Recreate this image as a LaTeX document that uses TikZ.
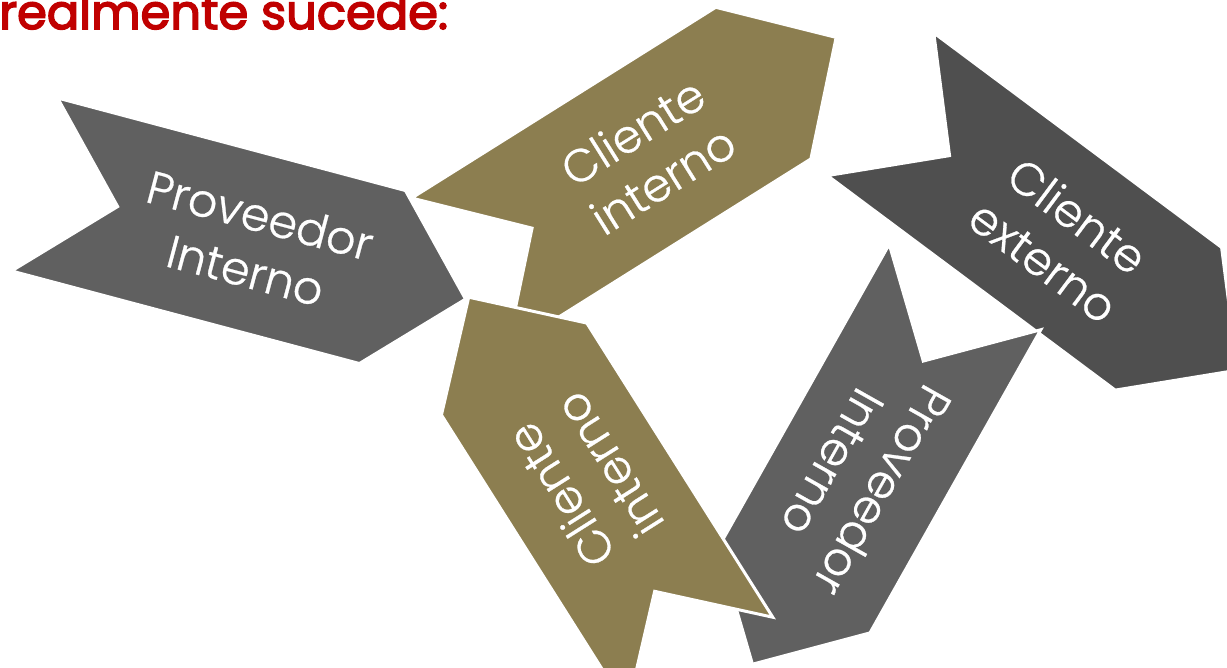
\documentclass[tikz,border=0pt]{standalone}
\usepackage{fontspec}
\setmainfont{Poppins}
\newfontfamily\lightfont[FakeBold=0.6]{Poppins Light}
\newfontfamily\titlefont[FakeBold=3.2]{Poppins}
\definecolor{gmid}{RGB}{96,96,96}
\definecolor{gdark}{RGB}{79,79,79}
\definecolor{tan}{RGB}{140,126,80}
\definecolor{titlered}{RGB}{192,0,0}
\tikzset{
  chev/.style={draw=white, line width=3pt, line join=miter},
  lbl/.style={text=white, font=\lightfont\fontsize{46}{57}\selectfont, align=center, inner sep=0pt},
}
\begin{document}
\begin{tikzpicture}[x=1pt,y=1pt]
\useasboundingbox (0,0) rectangle (1227,-668);
\clip (0,0) rectangle (1227,-668);
\fill[white] (0,0) rectangle (1227,-668);

% title
\node[anchor=base west, inner sep=0pt, text=titlered, font=\titlefont\fontsize{48}{58}\selectfont] (title) at (-1,-29) {realmente sucede:};

% shape 1: Proveedor Interno (left)
\begin{scope}[shift={(208.5,-230.75)}, rotate=-14.9]
\fill[gmid, chev] (-180,89.5) -- (180,89.5) -- (266,0) -- (180,-89.5) -- (-180,-89.5) -- (-94,0) -- cycle;
\node[lbl, rotate=-14.9] (p1) at (46,0) {Proveedor\\Interno};
\end{scope}

% shape 2: Cliente interno (top)
\begin{scope}[shift={(611.25,-178.5)}, rotate=32.1]
\fill[tan, chev] (-179.5,89.5) -- (179.5,89.5) -- (265.5,0) -- (179.5,-89.5) -- (-179.5,-89.5) -- (-93.5,0) -- cycle;
\node[lbl, rotate=32.1] (c1) at (43,0) {Cliente\\interno};
\end{scope}

% shape 5: Cliente externo
\begin{scope}[shift={(1024.5,-211.5)}, rotate=-36.7]
\fill[gdark, chev] (-179.5,89) -- (179.5,89) -- (265.5,0) -- (179.5,-89) -- (-179.5,-89) -- (-93.5,0) -- cycle;
\node[lbl, rotate=-36.7] (ce) at (45,0) {Cliente\\externo};
\end{scope}

% shape 4: Proveedor Interno (lower right)
\begin{scope}[shift={(879.6,-438.6)}, rotate=240.6]
\fill[gmid, chev] (-174,87) -- (174,87) -- (259,0) -- (174,-87) -- (-174,-87) -- (-89,0) -- cycle;
\node[lbl, rotate=240.6] (p2) at (44,0) {Proveedor\\Interno};
\end{scope}

% shape 3: Cliente interno (lower)
\begin{scope}[shift={(607.1,-516.1)}, rotate=122.3]
\fill[tan, chev] (-174,86) -- (174,86) -- (259,0) -- (174,-86) -- (-174,-86) -- (-89,0) -- cycle;
\node[lbl, rotate=122.3] (c2) at (42.5,0) {Cliente\\interno};
\end{scope}
\end{tikzpicture}
\end{document}
